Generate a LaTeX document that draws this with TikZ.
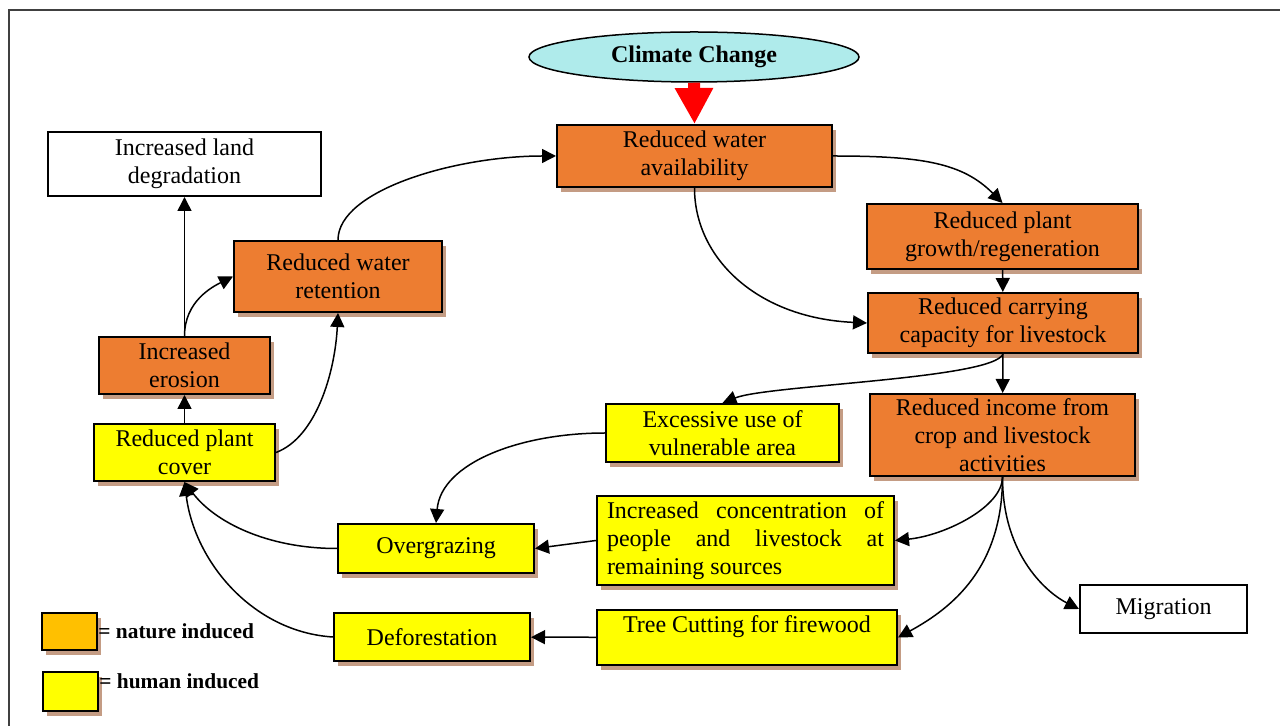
\documentclass[tikz,border=0pt]{standalone}
\usepackage{fontspec}
\setmainfont{Liberation Serif}
\usetikzlibrary{shapes,shadows,arrows.meta}

\definecolor{natorange}{RGB}{237,125,49}
\definecolor{humyellow}{RGB}{255,255,0}
\definecolor{legorange}{RGB}{255,192,0}
\definecolor{climcyan}{RGB}{175,235,235}
\definecolor{shadowtan}{RGB}{196,156,132}
\definecolor{framegray}{RGB}{64,64,64}

\begin{document}
\begin{tikzpicture}[x=0.5pt,y=-0.5pt]
\tikzstyle{box}=[draw,rectangle,line width=1pt,inner sep=2pt,align=center,font=\fontsize{12}{14}\selectfont]
\tikzstyle{shade}=[drop shadow={shadow xshift=2pt,shadow yshift=-2.5pt,fill=shadowtan,opacity=1}]
\tikzstyle{nature}=[box,shade,fill=natorange]
\tikzstyle{human}=[box,shade,fill=humyellow]
\tikzstyle{result}=[box,fill=white]
\tikzstyle{arr}=[-{Triangle[length=7pt,width=7pt]},line width=0.75pt]

\useasboundingbox (0,0) rectangle (1280,726);
\draw[framegray,line width=0.6pt] (1280,10) -- (9,10) -- (9,726);

\node [ellipse,draw,line width=0.75pt,fill=climcyan,minimum width=165pt,minimum height=25pt,inner sep=0,
  font=\bfseries\fontsize{12}{14}\selectfont] (clim) at (694,57) {Climate Change};

\node [nature,minimum width=137.5pt,minimum height=31pt] (avail) at (694.5,156) {Reduced water\\availability};
\node [nature,minimum width=135.5pt,minimum height=32.5pt] (growth) at (1002.5,236.5) {Reduced plant\\growth/regeneration};
\node [nature,minimum width=135pt,minimum height=30pt] (carry) at (1003,323) {Reduced carrying\\capacity for livestock};
\node [nature,minimum width=132.5pt,minimum height=41pt] (income) at (1002.5,435) {Reduced income from\\crop and livestock\\activities};
\node [nature,minimum width=104pt,minimum height=35.5pt] (retain) at (338,276.5) {Reduced water\\retention};
\node [nature,minimum width=85.5pt,minimum height=28.5pt] (erosion) at (184.5,365.5) {Increased\\erosion};

\node [human,minimum width=116.5pt,minimum height=29pt] (excess) at (722.5,433) {Excessive use of\\vulnerable area};
\node [human,text width=138.5pt,inner xsep=5pt,align=justify,minimum height=44.5pt] (conc) at (745.5,540.5)
  {Increased concentration of\linebreak people and livestock at\linebreak remaining sources};
\node [human,minimum width=150pt,minimum height=27.5pt,text depth=13pt] (tree) at (747,637.5) {Tree Cutting for firewood};
\node [human,minimum width=98pt,minimum height=24.5pt] (graze) at (436,548.5) {Overgrazing};
\node [human,minimum width=98pt,minimum height=24pt] (defor) at (432,637) {Deforestation};
\node [human,minimum width=90.5pt,minimum height=28.5pt] (cover) at (184.5,452.5) {Reduced plant\\cover};

\node [result,minimum width=136.5pt,minimum height=32pt] (land) at (184.5,164) {Increased land\\degradation};
\node [result,minimum width=83.5pt,minimum height=24pt] (migr) at (1163.5,609) {Migration};

% legend
\node [box,shade,fill=legorange,minimum width=27.5pt,minimum height=18.5pt] (legnat) at (69.5,631.5) {};
\node [box,shade,fill=humyellow,minimum width=27.5pt,minimum height=19.5pt] (leghum) at (70.5,691.5) {};
\node [anchor=west,inner sep=0,font=\bfseries\fontsize{10.7}{13}\selectfont] (keynat) at (legnat.east) {= nature induced};
\node [anchor=west,inner sep=0,font=\bfseries\fontsize{10.7}{13}\selectfont] (keyhum) at (99,681) {= human induced};

\draw[-{Triangle[length=18pt,width=18pt]},line width=6pt,red] (clim.south) -- (avail.north);

\path[arr]
    (growth) edge (carry)
    (carry) edge (income)
    (conc.west) edge (graze.east)
    (tree) edge (defor)
    (cover) edge (erosion)
    (erosion.north) edge (land.south);

\draw[arr] (avail.east) .. controls +(90,0) and +(-40,-40) .. (growth.north);
\draw[arr] (avail.south) .. controls +(0,70) and +(-110,-5) .. (carry.west);
\draw[arr] (carry.south) .. controls +(-10,25) and +(45,-18) .. (excess.north);
\draw[arr] (excess.west) .. controls +(-85,0) and +(5,-60) .. (graze.north);
\draw[arr] (income.south) .. controls +(0,30) and +(50,-5) .. (conc.east);
\draw[arr] (income.south) .. controls +(0,90) and +(55,-30) .. (tree.east);
\draw[arr] (income.south) .. controls +(0,80) and +(-30,-15) .. (migr.west);
\draw[arr] (graze.west) .. controls +(-70,0) and +(30,40) .. (cover.south);
\draw[arr] (defor.west) .. controls +(-80,-5) and +(10,80) .. (cover.south);
\draw[arr] (cover.east) .. controls +(40,-15) and +(-3,60) .. (retain.south);
\draw[arr] (erosion.north) .. controls +(0,-35) and +(-20,10) .. (retain.west);
\draw[arr] (retain.north) .. controls +(0,-50) and +(-100,0) .. (avail.west);

\end{tikzpicture}
\end{document}
